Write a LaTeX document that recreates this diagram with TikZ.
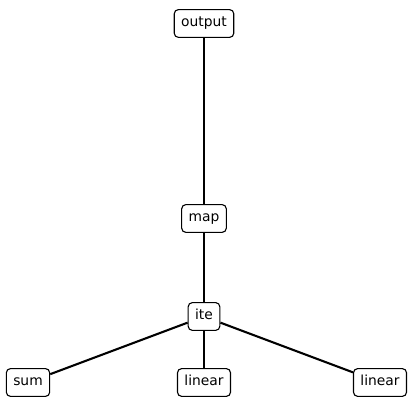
\documentclass[tikz,border=0pt]{standalone}
\usepackage{fontspec}
\setmainfont{DejaVu Sans}
\begin{document}
\begin{tikzpicture}[x=0.72bp, y=0.72bp,
  box/.style={draw, rounded corners=3bp, line width=0.8pt, fill=white, font=\fontsize{10}{12}\selectfont,
    inner xsep=5bp, inner ysep=5bp, text height=7.5bp, text depth=2.5bp},
  edge/.style={line width=1.5bp}]
\def\xleft{28};
\def\xmid{204};
\def\xright{380};

\def\ytop{381.5};
\def\ymap{186.5};
\def\yite{88.5};
\def\ybot{22.5};

\useasboundingbox (0,0) rectangle (409,405);

\node [box] (output) at (\xmid, \ytop) {output};
\node [box] (map) at (\xmid, \ymap) {map};
\node [box] (ite) at (\xmid, \yite) {ite};
\node [box] (sum) at (\xleft, \ybot) {sum};
\node [box] (linA) at (\xmid, \ybot) {linear};
\node [box] (linB) at (\xright, \ybot) {linear};

\draw [edge] (output) -- (map);
\draw [edge] (map) -- (ite);
\draw [edge] (ite) -- (sum);
\draw [edge] (ite) -- (linA);
\draw [edge] (ite) -- (linB);

\end{tikzpicture}
\end{document}
